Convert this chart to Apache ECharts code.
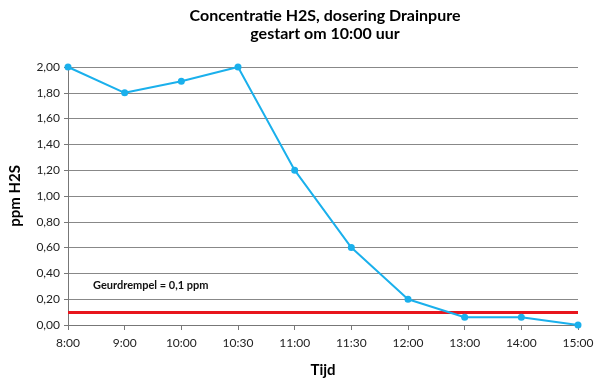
<!DOCTYPE html>
<html><head><meta charset="utf-8">
<script src="https://cdn.jsdelivr.net/npm/echarts@6/dist/echarts.min.js"></script>
<style>html,body{margin:0;padding:0;background:#fff}#c{width:600px;height:387px}</style>
</head><body><div id="c"></div>
<script>
var categories = ['8:00','9:00','10:00','10:30','11:00','11:30','12:00','13:00','14:00','15:00'];
var h2sValues = [2.00, 1.80, 1.89, 2.00, 1.20, 0.60, 0.20, 0.06, 0.06, 0.00];
var threshold = 0.1;
var thresholdLabel = 'Geurdrempel = 0,1 ppm';
var fmt = function(v){ return v.toFixed(2).replace('.', ','); };
var chart = echarts.init(document.getElementById('c'));
var font = 'Lato, "DejaVu Sans", sans-serif';
chart.setOption({
  animation: false,
  title: {
    text: 'Concentratie H2S, dosering Drainpure\ngestart om 10:00 uur',
    left: 320, top: 2, textAlign: 'center',
    textStyle: { fontFamily: font, fontSize: 16, fontWeight: 'bold', color: '#000', lineHeight: 18 }
  },
  grid: { left: 65, right: 22, top: 67, bottom: 62 },
  xAxis: {
    type: 'category', data: categories, boundaryGap: false,
    name: 'Tijd', nameLocation: 'middle', nameGap: 38,
    nameTextStyle: { fontFamily: font, fontSize: 15, fontWeight: 'bold', color: '#000' },
    axisLine: { lineStyle: { color: '#777', width: 1 } },
    axisTick: { show: true, alignWithLabel: true, length: 5, lineStyle: { color: '#777' } },
    axisLabel: { fontFamily: font, fontSize: 12, color: '#222', margin: 12 },
    splitLine: { show: false }
  },
  yAxis: {
    type: 'value', min: 0, max: 2, interval: 0.2,
    name: 'ppm H2S', nameLocation: 'middle', nameGap: 45, nameRotate: 90,
    nameTextStyle: { fontFamily: font, fontSize: 15, fontWeight: 'bold', color: '#000' },
    axisLine: { show: true, lineStyle: { color: '#777', width: 1 } },
    axisTick: { show: true, length: 4, lineStyle: { color: '#777' } },
    axisLabel: { fontFamily: font, fontSize: 12, color: '#222', margin: 8, formatter: fmt },
    splitLine: { show: true, lineStyle: { color: '#888', width: 1 } }
  },
  series: [{
    type: 'line', data: h2sValues,
    symbol: 'circle', symbolSize: 7,
    lineStyle: { color: '#1ab0ec', width: 2 },
    itemStyle: { color: '#1ab0ec' },
    z: 3,
    markLine: {
      silent: true, symbol: 'none',
      lineStyle: { color: '#e8151d', width: 3, type: 'solid' },
      label: { show: false },
      data: [{ yAxis: threshold }],
      z: 2
    }
  }],
  graphic: [{
    type: 'text', left: 93, top: 280,
    style: { text: thresholdLabel, fontFamily: font, fontSize: 11, fontWeight: 'bold', fill: '#111' }
  }]
});
</script></body></html>
